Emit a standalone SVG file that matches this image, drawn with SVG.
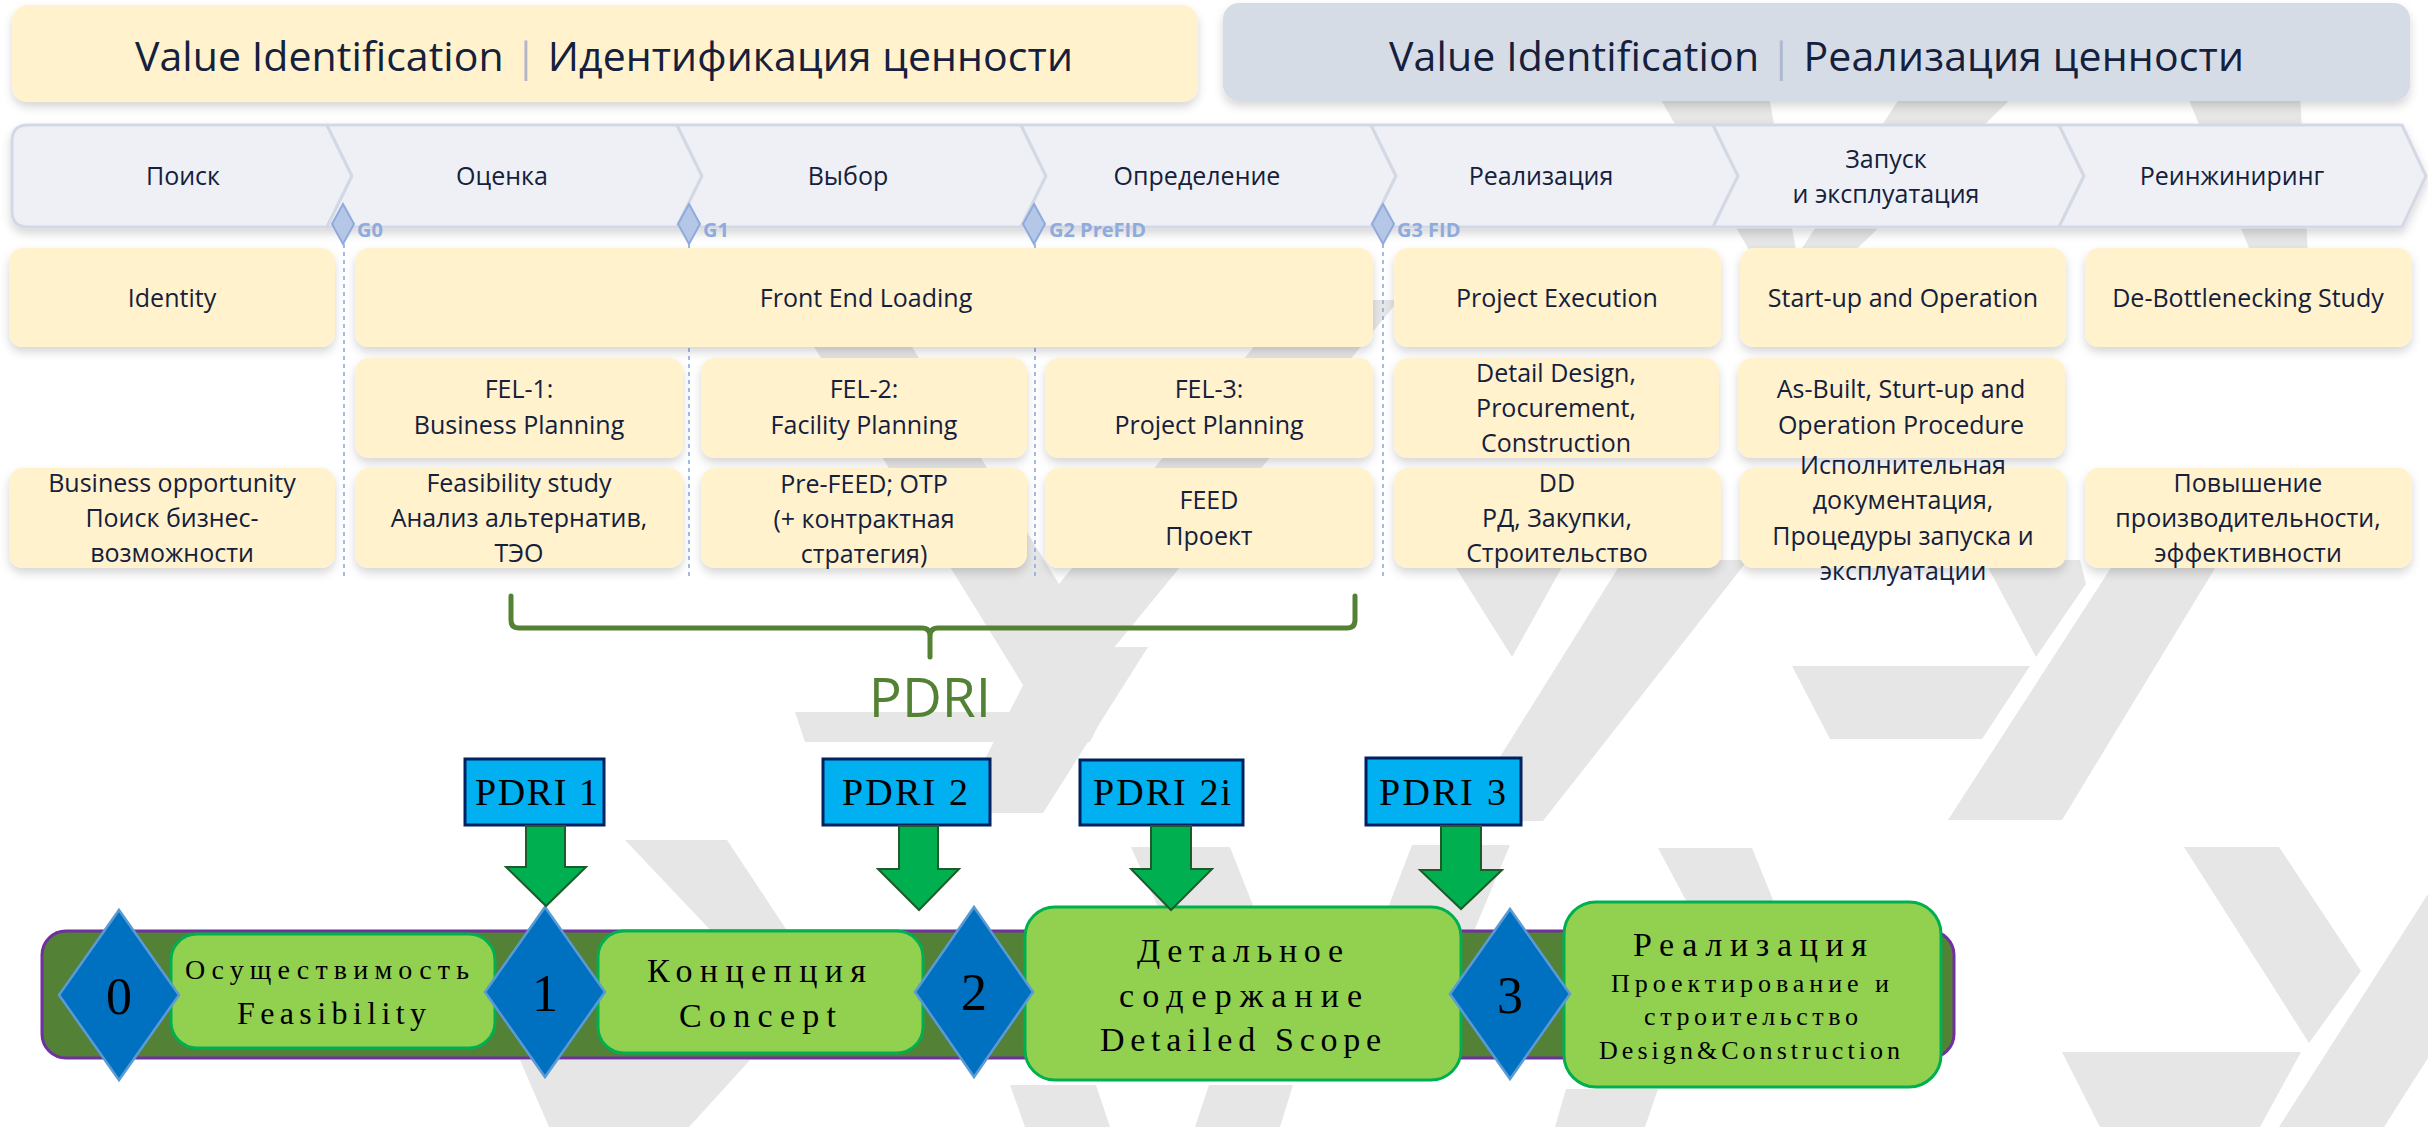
<svg xmlns="http://www.w3.org/2000/svg" width="2428" height="1127" viewBox="0 0 2428 1127">
<defs>
<filter id="sh" x="-10%" y="-20%" width="120%" height="150%">
<feDropShadow dx="0" dy="5" stdDeviation="5" flood-color="#000" flood-opacity="0.16"/>
</filter>
<style>
.wm{fill:#e6e6e6}
.ban{font-family:"Open Sans","Liberation Sans",sans-serif;font-size:41px;fill:#14203c}
.sep{fill:#adb9ca}
.chev{fill:#eef0f5;stroke:#d3d9e4;stroke-width:3;stroke-linejoin:round}
.cl{font-family:"Open Sans","Liberation Sans",sans-serif;font-size:25px;fill:#14203c;text-anchor:middle}
.gate{fill:#b4c7e7;stroke:#8faadc;stroke-width:2}
.gl{font-family:"Open Sans","Liberation Sans",sans-serif;font-size:20px;font-weight:bold;fill:#8faadc}
.dash{stroke:#8faadc;stroke-width:1.6;stroke-dasharray:4 4;fill:none}
.yb{fill:#fff2cc}
.bt{font-family:"Open Sans","Liberation Sans",sans-serif;font-size:25px;fill:#14203c;text-anchor:middle}
.br{fill:none;stroke:#548235;stroke-width:5;stroke-linecap:round;stroke-linejoin:round}
.pdri{font-family:"Open Sans","Liberation Sans",sans-serif;font-size:55px;fill:#548235;text-anchor:middle}
.pb{fill:#00b0f0;stroke:#002060;stroke-width:3}
.pt{font-family:"Liberation Serif","Times New Roman",serif;font-size:38px;fill:#000}
.ar{fill:#00b050;stroke:#1e5b2a;stroke-width:2;stroke-linejoin:miter}
.bar{fill:#538135;stroke:#7030a0;stroke-width:3}
.gb{fill:#92d050;stroke:#00b050;stroke-width:3}
.bd{fill:#0070c0;stroke:#5b9bd5;stroke-width:2.5}
.dg{font-family:"Liberation Serif","Times New Roman",serif;font-size:52px;fill:#000;text-anchor:middle}
.gt{font-family:"Liberation Serif","Times New Roman",serif;fill:#000}
</style>
</defs>
<rect width="2428" height="1127" fill="#ffffff"/>

<g id="watermark">
<polygon class="wm" points="785,300 883,300 1059,584 1292,300 1399,300 1049,727"/>
<polygon class="wm" points="1043,647 1148,647 1043,813 957,813"/>
<polygon class="wm" points="795,712 1105,712 1090,742 805,742"/>
<polygon class="wm" points="625,840 727,840 790,935 715,935"/>
<polygon class="wm" points="520,1060 750,1060 689,1127 549,1127"/>
<polygon class="wm" points="1451,560 1566,560 1512,657"/>
<polygon class="wm" points="1623,560 1748,560 1543,821 1460,821"/>
<polygon class="wm" points="1984,560 2080,560 2086,584 2036,657"/>
<polygon class="wm" points="2116,560 2220,560 2062,820 1948,820"/>
<polygon class="wm" points="1792,666 2030,666 1982,739 1830,739"/>
<polygon class="wm" points="2184,847 2279,847 2361,971 2309,1043"/>
<polygon class="wm" points="2062,1052 2301,1052 2260,1127 2100,1127"/>
<polygon class="wm" points="2428,894 2428,1058 2384,1127 2279,1127"/>
<polygon class="wm" points="1658,848 1752,848 1830,1040 1760,1040"/>
<polygon class="wm" points="1412,845 1510,845 1420,1060 1330,1060"/>
<polygon class="wm" points="1131,847 1230,847 1290,1000 1200,1000"/>
<polygon class="wm" points="1010,1085 1096,1085 1110,1127 1025,1127"/>
<polygon class="wm" points="1209,1085 1293,1085 1280,1127 1195,1127"/>
<polygon class="wm" points="1566,1089 1658,1089 1645,1127 1555,1127"/>
<polygon class="wm" points="1655,90 1768,90 1797,256 1905,90 2020,90 1788,316"/>
<polygon class="wm" points="2185,90 2300,90 2310,300 2270,300"/>
</g>

<g id="banner-left">
<rect x="12" y="5" width="1186" height="97" rx="16" fill="#fff2cc" filter="url(#sh)"/>
<text class="ban" x="135" y="71" textLength="938" lengthAdjust="spacing">Value Identification <tspan class="sep">|</tspan> Идентификация ценности</text>
</g>
<g id="banner-right">
<rect x="1223" y="3" width="1187" height="98" rx="16" fill="#d6dce5" filter="url(#sh)"/>
<text class="ban" x="1389" y="71" textLength="855" lengthAdjust="spacing">Value Identification <tspan class="sep">|</tspan> Реализация ценности</text>
</g>

<g id="chevrons" filter="url(#sh)">
<path id="ch1" class="chev" d="M28,125 H327 L352,176 L327,227 H28 Q12,227 12,211 V141 Q12,125 28,125 Z"/>
<polygon id="ch2" class="chev" points="327,125 677,125 702,176 677,227 327,227 352,176"/>
<polygon id="ch3" class="chev" points="677,125 1021,125 1046,176 1021,227 677,227 702,176"/>
<polygon id="ch4" class="chev" points="1021,125 1371,125 1396,176 1371,227 1021,227 1046,176"/>
<polygon id="ch5" class="chev" points="1371,125 1713,125 1738,176 1713,227 1371,227 1396,176"/>
<polygon id="ch6" class="chev" points="1713,125 2059,125 2084,176 2059,227 1713,227 1738,176"/>
<polygon id="ch7" class="chev" points="2059,125 2402,125 2426,176 2402,227 2059,227 2084,176"/>
</g>
<g id="chevron-labels">
<text class="cl" x="183" y="185">Поиск</text>
<text class="cl" x="502" y="185">Оценка</text>
<text class="cl" x="848" y="185">Выбор</text>
<text class="cl" x="1197" y="185">Определение</text>
<text class="cl" x="1541" y="185">Реализация</text>
<text class="cl" x="1886" y="168">Запуск</text>
<text class="cl" x="1886" y="203">и эксплуатация</text>
<text class="cl" x="2232" y="185">Реинжиниринг</text>
</g>

<g id="gate-lines">
<line class="dash" x1="344" y1="244" x2="344" y2="576"/>
<line class="dash" x1="689" y1="244" x2="689" y2="576"/>
<line class="dash" x1="1035" y1="244" x2="1035" y2="576"/>
<line class="dash" x1="1383" y1="244" x2="1383" y2="576"/>
</g>
<g id="gate-G0"><polygon class="gate" points="343,204 354,224 343,244 332,224"/><text class="gl" x="357" y="237">G0</text></g>
<g id="gate-G1"><polygon class="gate" points="689,204 700,224 689,244 678,224"/><text class="gl" x="703" y="237">G1</text></g>
<g id="gate-G2"><polygon class="gate" points="1034,204 1045,224 1034,244 1023,224"/><text class="gl" x="1049" y="237">G2 PreFID</text></g>
<g id="gate-G3"><polygon class="gate" points="1383,204 1394,224 1383,244 1372,224"/><text class="gl" x="1397" y="237">G3 FID</text></g>

<g id="row1">
<g id="identity"><rect class="yb" x="9" y="248" width="326" height="99" rx="14" filter="url(#sh)"/><text class="bt" x="172" y="307">Identity</text></g>
<g id="fel"><rect class="yb" x="355" y="248" width="1018" height="99" rx="14" filter="url(#sh)"/><text class="bt" x="866" y="307">Front End Loading</text></g>
<g id="project-execution"><rect class="yb" x="1394" y="248" width="327" height="99" rx="14" filter="url(#sh)"/><text class="bt" x="1557" y="307">Project Execution</text></g>
<g id="startup"><rect class="yb" x="1740" y="248" width="326" height="99" rx="14" filter="url(#sh)"/><text class="bt" x="1903" y="307">Start-up and Operation</text></g>
<g id="debottleneck"><rect class="yb" x="2085" y="248" width="327" height="99" rx="14" filter="url(#sh)"/><text class="bt" x="2248" y="307">De-Bottlenecking Study</text></g>
</g>

<g id="row2">
<g id="fel1"><rect class="yb" x="355" y="358" width="328" height="100" rx="14" filter="url(#sh)"/><text class="bt" x="519" y="398">FEL-1:</text><text class="bt" x="519" y="434">Business Planning</text></g>
<g id="fel2"><rect class="yb" x="701" y="358" width="326" height="100" rx="14" filter="url(#sh)"/><text class="bt" x="864" y="398">FEL-2:</text><text class="bt" x="864" y="434">Facility Planning</text></g>
<g id="fel3"><rect class="yb" x="1045" y="358" width="328" height="100" rx="14" filter="url(#sh)"/><text class="bt" x="1209" y="398">FEL-3:</text><text class="bt" x="1209" y="434">Project Planning</text></g>
<g id="detail-design"><rect class="yb" x="1394" y="358" width="325" height="100" rx="14" filter="url(#sh)"/><text class="bt" x="1556" y="382">Detail Design,</text><text class="bt" x="1556" y="417">Procurement,</text><text class="bt" x="1556" y="452">Construction</text></g>
<g id="as-built"><rect class="yb" x="1738" y="358" width="327" height="100" rx="14" filter="url(#sh)"/><text class="bt" x="1901" y="398">As-Built, Sturt-up and</text><text class="bt" x="1901" y="434">Operation Procedure</text></g>
</g>

<g id="row3">
<g id="business-opportunity"><rect class="yb" x="9" y="468" width="326" height="100" rx="14" filter="url(#sh)"/><text class="bt" x="172" y="492">Business opportunity</text><text class="bt" x="172" y="527">Поиск бизнес-</text><text class="bt" x="172" y="562">возможности</text></g>
<g id="feasibility-study"><rect class="yb" x="355" y="468" width="328" height="100" rx="14" filter="url(#sh)"/><text class="bt" x="519" y="492">Feasibility study</text><text class="bt" x="519" y="527">Анализ альтернатив,</text><text class="bt" x="519" y="562">ТЭО</text></g>
<g id="pre-feed"><rect class="yb" x="701" y="468" width="326" height="100" rx="14" filter="url(#sh)"/><text class="bt" x="864" y="493">Pre-FEED; OTP</text><text class="bt" x="864" y="528">(+ контрактная</text><text class="bt" x="864" y="563">стратегия)</text></g>
<g id="feed"><rect class="yb" x="1045" y="468" width="328" height="100" rx="14" filter="url(#sh)"/><text class="bt" x="1209" y="509">FEED</text><text class="bt" x="1209" y="545">Проект</text></g>
<g id="dd"><rect class="yb" x="1394" y="468" width="327" height="100" rx="14" filter="url(#sh)"/><text class="bt" x="1557" y="492">DD</text><text class="bt" x="1557" y="527">РД, Закупки,</text><text class="bt" x="1557" y="562">Строительство</text></g>
<g id="as-built-docs"><rect class="yb" x="1740" y="468" width="326" height="100" rx="14" filter="url(#sh)"/><text class="bt" x="1903" y="474">Исполнительная</text><text class="bt" x="1903" y="509">документация,</text><text class="bt" x="1903" y="545">Процедуры запуска и</text><text class="bt" x="1903" y="580">эксплуатации</text></g>
<g id="performance"><rect class="yb" x="2085" y="468" width="327" height="100" rx="14" filter="url(#sh)"/><text class="bt" x="2248" y="492">Повышение</text><text class="bt" x="2248" y="527">производительности,</text><text class="bt" x="2248" y="562">эффективности</text></g>
</g>

<g id="pdri-brace">
<path class="br" d="M511,596 V620 Q511,628 519,628 H922 Q930,628 930,636 V657 M930,636 Q930,628 938,628 H1347 Q1355,628 1355,620 V596"/>
<text class="pdri" x="930" y="717">PDRI</text>
</g>

<g id="stage-bar">
<rect class="bar" x="42" y="931" width="1912" height="127" rx="24"/>
</g>
<g id="stage-feasibility"><rect class="gb" x="171" y="934" width="324" height="114" rx="26"/>
<text class="gt" font-size="28" x="185" y="979" textLength="284" lengthAdjust="spacing">Осуществимость</text>
<text class="gt" font-size="32" x="237" y="1024" textLength="189" lengthAdjust="spacing">Feasibility</text></g>
<g id="stage-concept"><rect class="gb" x="598" y="931" width="325" height="122" rx="26"/>
<text class="gt" font-size="34" x="647" y="982" textLength="219" lengthAdjust="spacing">Концепция</text>
<text class="gt" font-size="34" x="679" y="1027" textLength="157" lengthAdjust="spacing">Concept</text></g>
<g id="stage-detailed"><rect class="gb" x="1025" y="907" width="436" height="173" rx="30"/>
<text class="gt" font-size="34" x="1137" y="962" textLength="206" lengthAdjust="spacing">Детальное</text>
<text class="gt" font-size="34" x="1119" y="1007" textLength="243" lengthAdjust="spacing">содержание</text>
<text class="gt" font-size="34" x="1100" y="1051" textLength="281" lengthAdjust="spacing">Detailed Scope</text></g>
<g id="stage-realization"><rect class="gb" x="1564" y="902" width="377" height="185" rx="32"/>
<text class="gt" font-size="34" x="1633" y="956" textLength="234" lengthAdjust="spacing">Реализация</text>
<text class="gt" font-size="26" x="1611" y="992" textLength="278" lengthAdjust="spacing">Проектирование и</text>
<text class="gt" font-size="26" x="1644" y="1025" textLength="214" lengthAdjust="spacing">строительство</text>
<text class="gt" font-size="26" x="1599" y="1059" textLength="301" lengthAdjust="spacing">Design&amp;Construction</text></g>

<g id="gate-0"><polygon class="bd" points="119,910 179,995 119,1080 59,995"/><text class="dg" x="119" y="1014">0</text></g>
<g id="gate-1"><polygon class="bd" points="545,907 605,992 545,1077 485,992"/><text class="dg" x="545" y="1011">1</text></g>
<g id="gate-2"><polygon class="bd" points="974,907 1033,992 974,1077 915,992"/><text class="dg" x="974" y="1010">2</text></g>
<g id="gate-3"><polygon class="bd" points="1510,909 1570,994 1510,1079 1450,994"/><text class="dg" x="1510" y="1013">3</text></g>

<g id="pdri-1"><rect class="pb" x="465" y="759" width="139" height="66"/><text class="pt" x="475" y="805" textLength="123" lengthAdjust="spacing">PDRI 1</text></g>
<g id="pdri-2"><rect class="pb" x="823" y="759" width="167" height="66"/><text class="pt" x="842" y="805" textLength="126" lengthAdjust="spacing">PDRI 2</text></g>
<g id="pdri-2i"><rect class="pb" x="1080" y="760" width="163" height="65"/><text class="pt" x="1093" y="805" textLength="138" lengthAdjust="spacing">PDRI 2i</text></g>
<g id="pdri-3"><rect class="pb" x="1366" y="758" width="155" height="67"/><text class="pt" x="1379" y="805" textLength="127" lengthAdjust="spacing">PDRI 3</text></g>

<g id="connectors">
<polygon class="ar" points="526,826 565,826 565,867 586,867 546,906 506,867 526,867"/>
<polygon class="ar" points="899,826 938,826 938,869 959,869 919,910 878,869 899,869"/>
<polygon class="ar" points="1151,826 1191,826 1191,869 1212,869 1171,910 1131,869 1151,869"/>
<polygon class="ar" points="1441,826 1481,826 1481,870 1502,870 1461,909 1420,870 1441,870"/>
</g>
</svg>
